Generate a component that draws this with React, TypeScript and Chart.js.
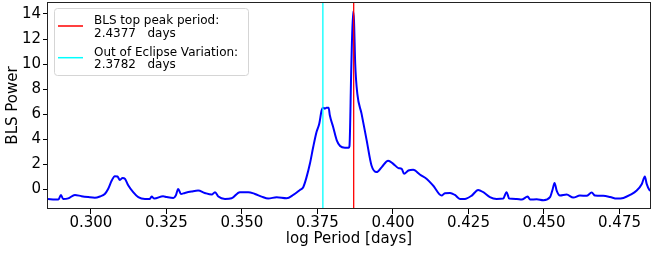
import React, { useEffect, useRef } from "react";
import { Chart, registerables } from "chart.js";

Chart.register(...registerables);

const logPeriod = [
  0.2858, 0.2881, 0.2892, 0.2901, 0.2908, 0.2925, 0.2947, 0.2969, 0.2991, 0.3013,
  0.3030, 0.3046, 0.3057, 0.3069, 0.3079, 0.3088, 0.3096, 0.3105, 0.3113, 0.3124,
  0.3140, 0.3157, 0.3179, 0.3195, 0.3201, 0.3210, 0.3239, 0.3251, 0.3273, 0.3281,
  0.3289, 0.3298, 0.3311, 0.3333, 0.3355, 0.3377, 0.3400, 0.3411, 0.3422, 0.3444,
  0.3466, 0.3493, 0.3521, 0.3543, 0.3565, 0.3587, 0.3615, 0.3648, 0.3670, 0.3692,
  0.3703, 0.3714, 0.3725, 0.3736, 0.3747, 0.3756, 0.3764, 0.3769, 0.3775, 0.3780,
  0.3787, 0.3791, 0.3802, 0.3814, 0.3825, 0.3841, 0.3853, 0.3856, 0.3862, 0.3868,
  0.3871, 0.3875, 0.3882, 0.3896, 0.3913, 0.3929, 0.3946, 0.3963, 0.3984, 0.4001,
  0.4018, 0.4029, 0.4037, 0.4051, 0.4067, 0.4073, 0.4089, 0.4112, 0.4133, 0.4161,
  0.4172, 0.4189, 0.4205, 0.4222, 0.4238, 0.4261, 0.4282, 0.4299, 0.4321, 0.4343,
  0.4365, 0.4376, 0.4385, 0.4410, 0.4426, 0.4446, 0.4454, 0.4476, 0.4498, 0.4520,
  0.4529, 0.4535, 0.4542, 0.4553, 0.4575, 0.4597, 0.4619, 0.4641, 0.4658, 0.4669,
  0.4696, 0.4719, 0.4741, 0.4763, 0.4785, 0.4807, 0.4824, 0.4834, 0.4840, 0.4849,
  0.4853,
];

const blsPower = [
  -0.75, -0.8, -0.8, -0.43, -0.75, -0.7, -0.43, -0.53, -0.6, -0.65,
  -0.55, -0.35, 0.05, 0.72, 1.07, 1.04, 0.77, 0.93, 0.85, 0.32,
  -0.21, -0.61, -0.75, -0.75, -0.56, -0.72, -0.53, -0.6, -0.68, -0.48,
  0.05, -0.35, -0.27, -0.16, -0.08, -0.27, -0.4, -0.21, -0.56, -0.75,
  -0.7, -0.21, -0.21, -0.35, -0.56, -0.72, -0.61, -0.69, -0.43, -0.03,
  0.19, 0.99, 2.05, 3.39, 4.59, 5.25, 6.32, 6.53, 6.45, 6.53,
  6.53, 5.92, 4.99, 3.92, 3.47, 3.33, 3.33, 3.45, 9.6, 14.2,
  13.5, 10.05, 7.65, 6.05, 3.92, 1.92, 1.39, 1.79, 2.3, 2.05,
  1.71, 1.65, 1.25, 1.52, 1.57, 1.52, 1.2, 0.85, 0.32, -0.48,
  -0.29, -0.27, -0.43, -0.75, -0.75, -0.48, -0.03, -0.21, -0.61, -0.75,
  -0.72, -0.21, -0.72, -0.75, -0.8, -0.56, -0.8, -0.77, -0.85, -0.61,
  0.05, 0.53, -0.08, -0.48, -0.4, -0.64, -0.48, -0.5, -0.24, -0.48,
  -0.5, -0.59, -0.72, -0.67, -0.43, -0.08, 0.45, 1.04, 0.45, -0.03,
  -0.1,
];

const peakLogPeriod = 0.387;
const oevLogPeriod = 0.3768;
const legendLabels = [
  ["BLS top peak period:", "2.4377   days"],
  ["Out of Eclipse Variation:", "2.3782   days"],
];
const legendColors = ["#ff0000", "#00ffff"];
const xTicks = [0.3, 0.325, 0.35, 0.375, 0.4, 0.425, 0.45, 0.475];
const yTicks = [0, 2, 4, 6, 8, 10, 12, 14];
const xMin = 0.2858;
const xMax = 0.4851;
const yMin = -1.55;
const yMax = 14.95;

const FONT = "'DejaVu Sans', 'Liberation Sans', sans-serif";

const framePlugin = {
  id: "frame",
  afterDatasetsDraw(chart: any) {
    const { ctx, chartArea } = chart;
    ctx.save();
    ctx.strokeStyle = "#222";
    ctx.lineWidth = 1;
    ctx.strokeRect(
      Math.round(chartArea.left) - 0.5,
      Math.round(chartArea.top) + 0.5,
      Math.round(chartArea.right - chartArea.left) + 1,
      Math.round(chartArea.bottom - chartArea.top) - 1
    );
    ctx.restore();
  },
};

const legendPlugin = {
  id: "customLegend",
  afterDraw(chart: any) {
    const { ctx } = chart;
    ctx.save();
    const x0 = 54.5, y0 = 8.5, w = 194, h = 67;
    const r = 3;
    ctx.beginPath();
    ctx.moveTo(x0 + r, y0);
    ctx.lineTo(x0 + w - r, y0);
    ctx.quadraticCurveTo(x0 + w, y0, x0 + w, y0 + r);
    ctx.lineTo(x0 + w, y0 + h - r);
    ctx.quadraticCurveTo(x0 + w, y0 + h, x0 + w - r, y0 + h);
    ctx.lineTo(x0 + r, y0 + h);
    ctx.quadraticCurveTo(x0, y0 + h, x0, y0 + h - r);
    ctx.lineTo(x0, y0 + r);
    ctx.quadraticCurveTo(x0, y0, x0 + r, y0);
    ctx.closePath();
    ctx.fillStyle = "rgba(255,255,255,0.85)";
    ctx.fill();
    ctx.strokeStyle = "#d5d5d5";
    ctx.lineWidth = 1;
    ctx.stroke();

    ctx.font = `12px ${FONT}`;
    ctx.fillStyle = "#000";
    ctx.textBaseline = "alphabetic";
    ctx.textAlign = "left";
    const baselines = [24, 55.7];
    legendLabels.forEach((lines, i) => {
      const b = baselines[i];
      lines.forEach((t, j) => ctx.fillText(t, 94, b + j * 12.7));
      const ly = b + 2;
      ctx.beginPath();
      ctx.strokeStyle = legendColors[i];
      ctx.lineWidth = 1.5;
      ctx.moveTo(58, ly);
      ctx.lineTo(83, ly);
      ctx.stroke();
    });
    ctx.restore();
  },
};

function zeroPad(s: any) {
  s.paddingTop = 0;
  s.paddingBottom = 0;
  s.paddingLeft = 0;
  s.paddingRight = 0;
}

export default function App() {
  const canvasRef = useRef<HTMLCanvasElement | null>(null);

  useEffect(() => {
    document.body.style.margin = "0";
    const canvas = canvasRef.current;
    if (!canvas) return;
    const chart = new Chart(canvas, {
      type: "line",
      data: {
        datasets: [
          {
            label: "BLS",
            data: logPeriod.map((x, i) => ({ x, y: blsPower[i] })),
            borderColor: "#0000ff",
            borderWidth: 2,
            pointRadius: 0,
            cubicInterpolationMode: "monotone",
            order: 3,
          },
          {
            label: "peak",
            data: [
              { x: peakLogPeriod, y: yMin },
              { x: peakLogPeriod, y: yMax },
            ],
            borderColor: "#ff0000",
            borderWidth: 1.3,
            pointRadius: 0,
            order: 1,
          },
          {
            label: "oev",
            data: [
              { x: oevLogPeriod, y: yMin },
              { x: oevLogPeriod, y: yMax },
            ],
            borderColor: "#00ffff",
            borderWidth: 1.3,
            pointRadius: 0,
            order: 2,
          },
        ],
      },
      options: {
        responsive: false,
        animation: false,
        layout: { padding: { top: 2, right: 6, left: 0, bottom: 0 } },
        plugins: {
          legend: { display: false },
          tooltip: { enabled: false },
          title: { display: false },
        },
        scales: {
          x: {
            type: "linear",
            min: xMin,
            max: xMax,
            afterFit: (s: any) => {
              s.height = 44;
              zeroPad(s);
            },
            afterBuildTicks: (s: any) => {
              s.ticks = xTicks.map((v) => ({ value: v }));
            },
            grid: {
              drawOnChartArea: false,
              tickLength: 5,
              color: "#000",
            },
            border: { display: false },
            ticks: {
              color: "#000",
              padding: 0,
              maxRotation: 0,
              font: { family: FONT, size: 15 },
              callback: (v: any) => Number(v).toFixed(3),
            },
            title: {
              display: true,
              text: "log Period [days]",
              color: "#000",
              font: { family: FONT, size: 15 },
              padding: { top: 0, bottom: 5 },
            },
          },
          y: {
            type: "linear",
            min: yMin,
            max: yMax,
            afterFit: (s: any) => {
              s.width = 48;
              zeroPad(s);
            },
            afterBuildTicks: (s: any) => {
              s.ticks = yTicks.map((v) => ({ value: v }));
            },
            grid: {
              drawOnChartArea: false,
              tickLength: 5,
              color: "#000",
            },
            border: { display: false },
            ticks: {
              color: "#000",
              padding: 2,
              font: { family: FONT, size: 15 },
              callback: (v: any) => String(Math.round(Number(v))),
            },
            title: {
              display: true,
              text: "BLS Power",
              color: "#000",
              font: { family: FONT, size: 15 },
              padding: { top: 4, bottom: 0 },
            },
          },
        },
      },
      plugins: [framePlugin, legendPlugin],
    } as any);
    return () => chart.destroy();
  }, []);

  return (
    <div style={{ position: "fixed", left: 0, top: 0, width: 656, height: 253, background: "#fff" }}>
      <canvas ref={canvasRef} width={656} height={253} />
    </div>
  );
}
